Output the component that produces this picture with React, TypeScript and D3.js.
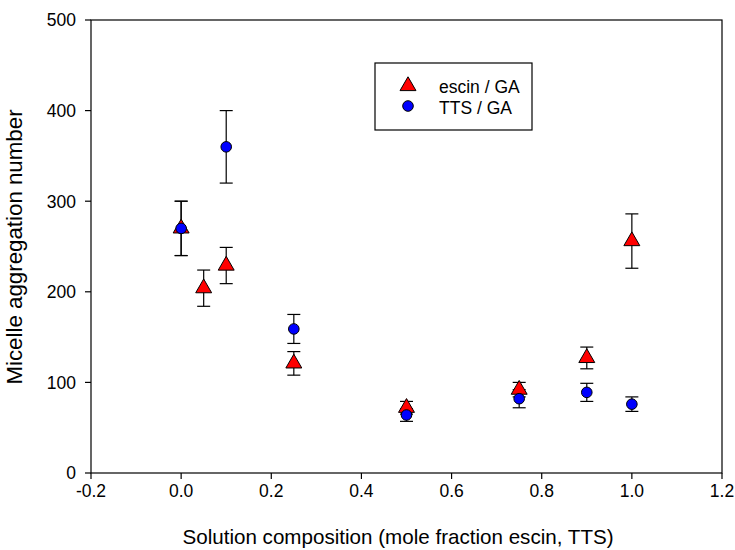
import React from "react";
import * as d3 from "d3";

const escinX = [0, 0.05, 0.1, 0.25, 0.5, 0.75, 0.9, 1.0];
const escinY = [270, 204, 229, 121, 72, 92, 127, 256];
const escinErr = [30, 20, 20, 13, 7, 8, 12, 30];

const ttsX = [0, 0.1, 0.25, 0.5, 0.75, 0.9, 1.0];
const ttsY = [270, 360, 159, 64, 82, 89, 76];
const ttsErr = [30, 40, 16, 7, 10, 10, 8];

const xTicks = [-0.2, 0, 0.2, 0.4, 0.6, 0.8, 1.0, 1.2];
const yTicks = [0, 100, 200, 300, 400, 500];

const W = 735, H = 550;
const L = 91, R = 722, T = 20, B = 473;
const FONT = "'Liberation Sans', Arial, sans-serif";

export default function App() {
  const x = d3.scaleLinear().domain([-0.2, 1.2]).range([L, R]);
  const y = d3.scaleLinear().domain([0, 500]).range([B, T]);
  const tri = d3.symbol().type(d3.symbolTriangle).size(110)();
  const fmt = (t: number) => d3.format(".1f")(t).replace("\u2212", "-");

  const errBar = (cx: number, cy: number, e: number, key: string) => (
    <g key={key} stroke="#000" strokeWidth={1.2}>
      <line x1={x(cx)} x2={x(cx)} y1={y(cy - e)} y2={y(cy + e)} />
      <line x1={x(cx) - 6.5} x2={x(cx) + 6.5} y1={y(cy + e)} y2={y(cy + e)} />
      <line x1={x(cx) - 6.5} x2={x(cx) + 6.5} y1={y(cy - e)} y2={y(cy - e)} />
    </g>
  );

  return (
    <svg width={W} height={H} style={{ position: "absolute", left: 0, top: 0, background: "#fff" }} fontFamily={FONT}>
      <rect x={0} y={0} width={W} height={H} fill="#fff" />
      {/* frame */}
      <rect x={L} y={T} width={R - L} height={B - T} fill="none" stroke="#000" strokeWidth={1.2} />
      {/* y ticks */}
      {yTicks.map((t) => (
        <g key={"y" + t}>
          <line x1={L - 6} x2={L} y1={y(t)} y2={y(t)} stroke="#000" strokeWidth={1.2} />
          <text x={L - 15} y={y(t)} dy="0.36em" textAnchor="end" fontSize={17.5} fill="#000">{t}</text>
        </g>
      ))}
      {/* x ticks */}
      {xTicks.map((t) => (
        <g key={"x" + t}>
          <line x1={x(t)} x2={x(t)} y1={B} y2={B + 6} stroke="#000" strokeWidth={1.2} />
          <text x={x(t)} y={B + 24} textAnchor="middle" fontSize={17.5} fill="#000">{fmt(t)}</text>
        </g>
      ))}
      <text x={398} y={544} textAnchor="middle" fontSize={20.6} fill="#000">Solution composition (mole fraction escin, TTS)</text>
      <text transform={`translate(22,247) rotate(-90)`} textAnchor="middle" fontSize={22.3} fill="#000">Micelle aggregation number</text>

      {/* error bars */}
      {escinX.map((v, i) => errBar(v, escinY[i], escinErr[i], "ee" + i))}
      {ttsX.map((v, i) => errBar(v, ttsY[i], ttsErr[i], "te" + i))}

      {/* escin triangles */}
      {escinX.map((v, i) => (
        <path key={"et" + i} d={tri as string} transform={`translate(${x(v)},${y(escinY[i])})`} fill="#ff0000" stroke="#000" strokeWidth={1} />
      ))}
      {/* TTS circles */}
      {ttsX.map((v, i) => (
        <circle key={"tc" + i} cx={x(v)} cy={y(ttsY[i])} r={5.3} fill="#0000ff" stroke="#000" strokeWidth={1} />
      ))}

      {/* legend */}
      <rect x={375} y={63} width={157} height={67} fill="#fff" stroke="#000" strokeWidth={1.2} />
      <path d={tri as string} transform="translate(408,86)" fill="#ff0000" stroke="#000" strokeWidth={1} />
      <circle cx={408} cy={106} r={5.3} fill="#0000ff" stroke="#000" strokeWidth={1} />
      <text x={439} y={92.5} fontSize={17.5} fill="#000">escin / GA</text>
      <text x={439} y={114} fontSize={17.5} fill="#000">TTS / GA</text>
    </svg>
  );
}
